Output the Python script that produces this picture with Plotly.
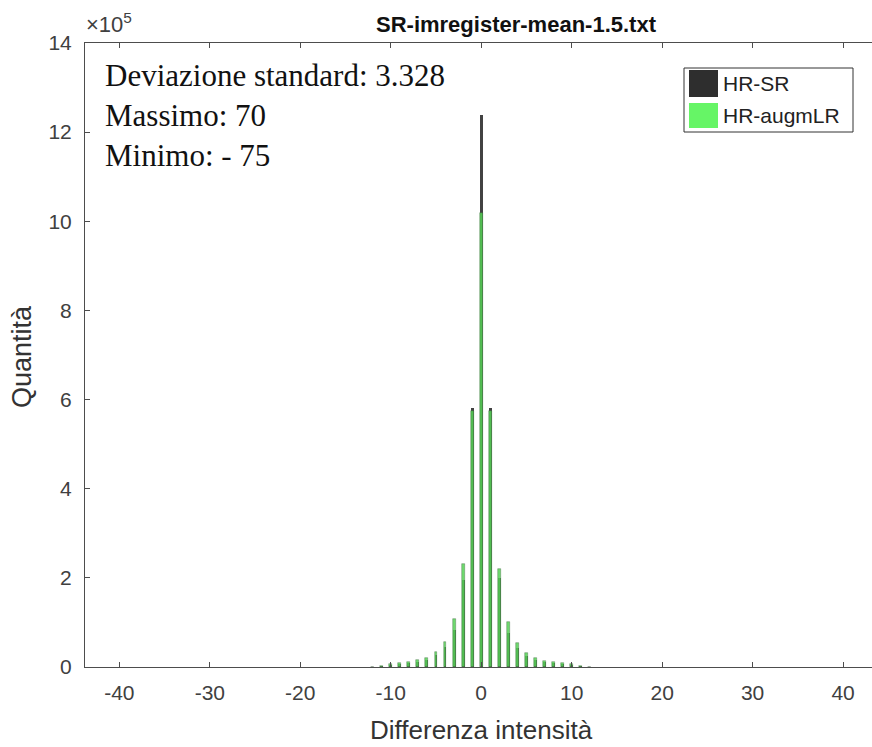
import plotly.graph_objects as go

# Data (counts, in units of 1e5)
bins = [-12, -11, -10, -9, -8, -7, -6, -5, -4, -3, -2, -1, 0, 1, 2, 3, 4, 5, 6, 7, 8, 9, 10, 11, 12]
hr_sr = [0.01, 0.02, 0.05, 0.07, 0.10, 0.12, 0.16, 0.26, 0.45, 0.83, 1.95, 5.82, 12.38,
         5.82, 2.00, 0.76, 0.43, 0.25, 0.16, 0.12, 0.09, 0.07, 0.05, 0.02, 0.01]
hr_augmlr = [0.01, 0.02, 0.06, 0.09, 0.12, 0.15, 0.20, 0.34, 0.56, 1.08, 2.30, 5.75, 10.19,
             5.75, 2.20, 1.00, 0.54, 0.31, 0.20, 0.14, 0.11, 0.08, 0.06, 0.02, 0.01]
scale = 1e5
yticks = [0, 2, 4, 6, 8, 10, 12, 14]
xticks = [-40, -30, -20, -10, 0, 10, 20, 30, 40]

title = "SR-imregister-mean-1.5.txt"
stats = ["Deviazione standard: 3.328", "Massimo: 70", "Minimo: - 75"]
names = ["HR-SR", "HR-augmLR"]
xlabel = "Differenza intensità"
ylabel = "Quantità"

W, H = 872, 747
L, T, R, B = 85, 43, 0, 80
PW, PH = W - L - R, H - T - B


def px(xp):
    return (xp - L) / PW


def py(yp):
    return 1 - (yp - T) / PH


fig = go.Figure()
fig.add_trace(go.Bar(x=bins, y=[v * scale for v in hr_sr], width=0.32, name=names[0],
                     marker=dict(color="rgba(45,45,45,0.9)", line=dict(width=0)),
                     showlegend=False))
fig.add_trace(go.Bar(x=bins, y=[v * scale for v in hr_augmlr], width=0.32, name=names[1],
                     marker=dict(color="rgba(85,210,85,0.85)",
                                 line=dict(width=0.6, color="rgba(60,90,60,0.6)")),
                     showlegend=False))

axis_color = "#4d4d4d"
tickfont = dict(family="Liberation Sans, Arial", size=21, color="#404040")

fig.update_layout(
    width=W, height=H,
    margin=dict(l=L, r=R, t=T, b=B),
    paper_bgcolor="white", plot_bgcolor="white",
    barmode="overlay",
    bargap=0,
    xaxis=dict(range=[-43.8, 43.2], tickvals=xticks, ticktext=[str(v) for v in xticks],
               ticks="inside", ticklen=5, tickcolor=axis_color, showline=True,
               linecolor=axis_color, linewidth=1, mirror="ticks", showgrid=False,
               zeroline=False, tickfont=tickfont, ticklabelstandoff=7),
    yaxis=dict(range=[0, 14 * scale], tickvals=[v * scale for v in yticks],
               ticktext=[str(v) for v in yticks],
               ticks="inside", ticklen=5, tickcolor=axis_color, showline=True,
               linecolor=axis_color, linewidth=1, showgrid=False, zeroline=False,
               tickfont=tickfont, ticklabelstandoff=8),
)

# title
fig.add_annotation(xref="paper", yref="paper", x=px(516), y=py(24), xanchor="center",
                   yanchor="middle", showarrow=False, text="<b>" + title + "</b>",
                   font=dict(family="Liberation Sans, Arial", size=22, color="#111111"))
# axis titles
fig.add_annotation(xref="paper", yref="paper", x=px(481), y=py(730), xanchor="center",
                   yanchor="middle", showarrow=False, text=xlabel,
                   font=dict(family="Liberation Sans, Arial", size=26, color="#333333"))
fig.add_annotation(xref="paper", yref="paper", x=px(22), y=py(356), xanchor="center",
                   yanchor="middle", showarrow=False, text=ylabel, textangle=-90,
                   font=dict(family="Liberation Sans, Arial", size=27, color="#333333"))

# x10^5 exponent label
fig.add_annotation(xref="paper", yref="paper", x=px(84), y=py(23), xanchor="left",
                   yanchor="middle", showarrow=False,
                   text="×10<sup>5</sup>",
                   font=dict(family="Liberation Sans, Arial", size=22, color="#404040"))

# statistics text
for i, s in enumerate(stats):
    fig.add_annotation(xref="paper", yref="paper", x=px(103),
                       y=py(75 + i * 40),
                       xanchor="left", yanchor="middle", showarrow=False, text=s,
                       font=dict(family="Liberation Serif, Times New Roman", size=31,
                                 color="#111111"))

# legend (manual, MATLAB style)
fig.add_shape(type="rect", xref="paper", yref="paper", x0=px(684), x1=px(853), y0=py(132),
              y1=py(68), line=dict(color="#333333", width=1), fillcolor="white")
sw = [("#2e2e2e", 70, 97), ("#66f566", 103, 128)]
for (c, y0, y1), nm in zip(sw, names):
    fig.add_shape(type="rect", xref="paper", yref="paper", x0=px(689), x1=px(718),
                  y0=py(y1), y1=py(y0), line=dict(width=0), fillcolor=c)
    fig.add_annotation(xref="paper", yref="paper", x=px(721), y=py((y0 + y1) / 2),
                       xanchor="left", yanchor="middle", showarrow=False, text=nm,
                       font=dict(family="Liberation Sans, Arial", size=21, color="#222222"))

fig.write_html("out.html")
